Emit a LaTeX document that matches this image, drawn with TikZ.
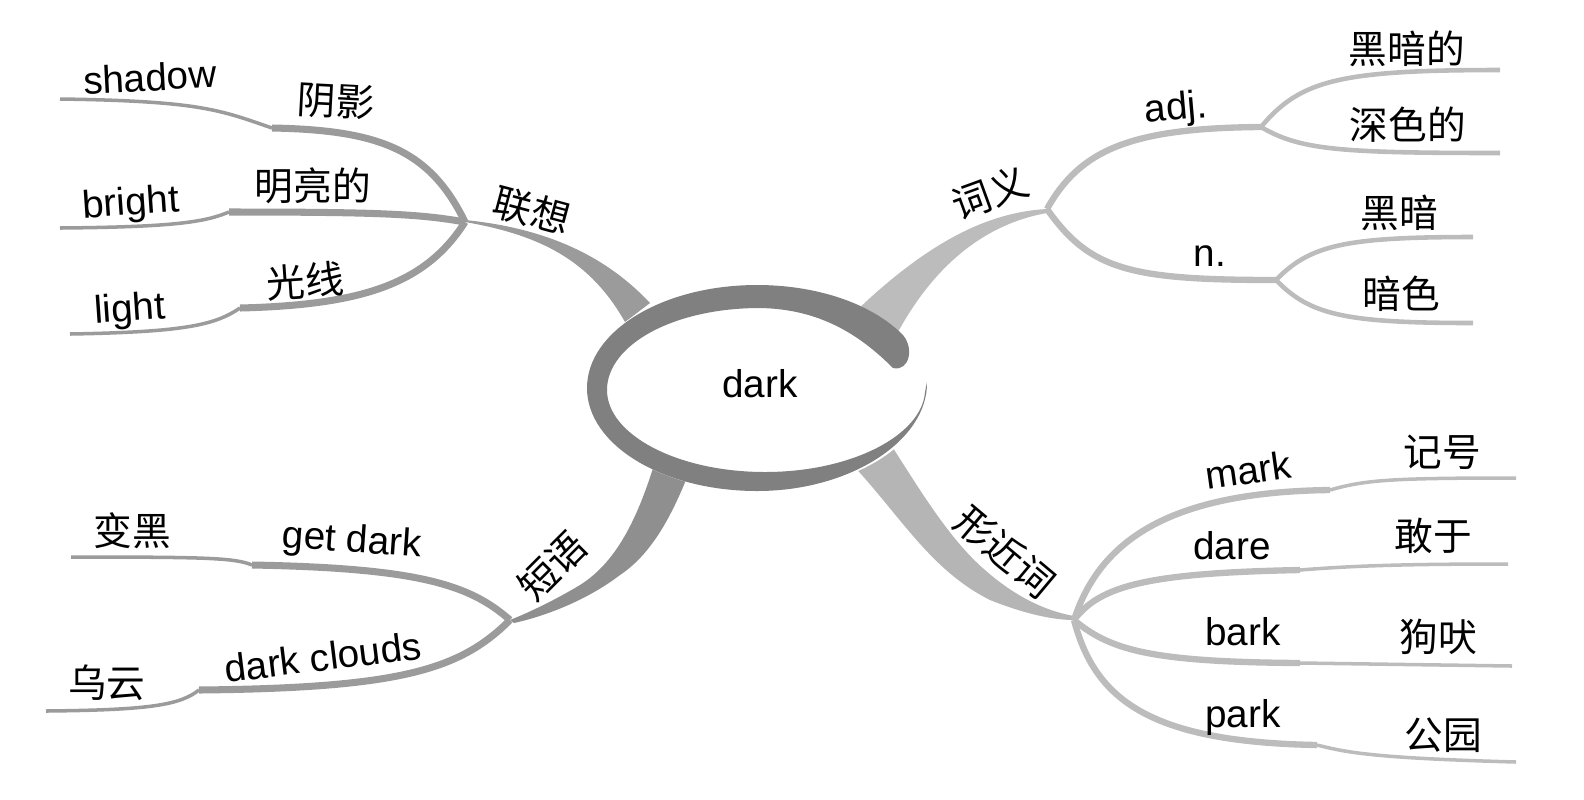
\documentclass[tikz,border=0pt]{standalone}
\usepackage{fontspec}
\setmainfont{Liberation Sans}
\newfontfamily\cjk{Noto Sans CJK SC}
\definecolor{ringgray}{RGB}{128,128,128}
\definecolor{leftgray}{RGB}{155,155,155}
\definecolor{rightgray}{RGB}{188,188,188}

\begin{document}
\begin{tikzpicture}[x=0.01cm, y=-0.01cm,
  every node/.style={font=\fontsize{11}{13}\selectfont, inner sep=0pt},
  zh/.style={font=\cjk\fontsize{11}{13}\selectfont},
  lsub/.style={draw=leftgray, line width=2pt},
  lthin/.style={draw=leftgray, line width=1pt},
  rsub/.style={draw=rightgray, line width=1.8pt},
  rmid/.style={draw=rightgray, line width=1.3pt},
  rthin/.style={draw=rightgray, line width=1pt}]
\useasboundingbox (0,0) rectangle (1584,799);

% hubs
\coordinate (assoc) at (465,222);
\coordinate (mean) at (1047,209);
\coordinate (phrase) at (510,620);
\coordinate (similar) at (1074,620);
\coordinate (adj) at (1261,127);
\coordinate (noun) at (1276,280);
% steps and free ends
\coordinate (shadowStep) at (272,128);  \coordinate (shadowEnd) at (60,99);
\coordinate (brightStep) at (229,212);  \coordinate (brightEnd) at (60,228);
\coordinate (lightStep) at (240,308);   \coordinate (lightEnd) at (70,334);
\coordinate (getdarkStep) at (252,565); \coordinate (getdarkEnd) at (71,557);
\coordinate (cloudsStep) at (199,690);  \coordinate (cloudsEnd) at (46,711);
\coordinate (blackEnd) at (1500,70);    \coordinate (deepEnd) at (1500,153);
\coordinate (nightEnd) at (1473,237);   \coordinate (dimEnd) at (1473,323);
\coordinate (markStep) at (1330,490);   \coordinate (markEnd) at (1516,478);
\coordinate (dareStep) at (1300,570);   \coordinate (dareEnd) at (1508,564);
\coordinate (barkStep) at (1300,663);   \coordinate (barkEnd) at (1512,666);
\coordinate (parkStep) at (1317,745);   \coordinate (parkEnd) at (1516,762);

% main branches
\fill[leftgray] (assoc) .. controls (540,235) and (590,260) .. (625,322) -- (650,303)
  .. controls (605,255) and (545,228) .. (465,220) -- cycle;
\fill[rightgray] (mean) .. controls (990,212) and (930,240) .. (855,312) -- (898,332)
  .. controls (940,255) and (995,222) .. (1047,213) -- cycle;
\fill[leftgray!92!black] (phrase) .. controls (530,612) and (555,600) .. (580,585)
  .. controls (620,560) and (640,510) .. (655,462) -- (688,475)
  .. controls (670,520) and (650,555) .. (620,575)
  .. controls (590,598) and (550,615) .. (514,623) -- cycle;
\fill[rightgray!96!black] (850,462) .. controls (900,515) and (930,570) .. (990,600)
  .. controls (1020,612) and (1050,620) .. (similar) -- (1074,616)
  .. controls (1040,610) and (1010,592) .. (985,570)
  .. controls (950,540) and (920,490) .. (893,448) -- cycle;

% left sub-branches
\draw[lsub] (assoc) .. controls (430,150) and (380,130) .. (shadowStep);
\draw[lthin] (shadowStep) .. controls (220,110) and (200,101) .. (shadowEnd);
\draw[lsub] (assoc) .. controls (420,214) and (380,212) .. (brightStep);
\draw[lthin] (brightStep) .. controls (205,222) and (175,227) .. (brightEnd);
\draw[lsub] (assoc) .. controls (425,285) and (360,305) .. (lightStep);
\draw[lthin] (lightStep) .. controls (215,325) and (185,332) .. (lightEnd);
\draw[lsub] (phrase) .. controls (470,585) and (420,568) .. (getdarkStep);
\draw[lthin] (getdarkStep) .. controls (235,558) and (210,557) .. (getdarkEnd);
\draw[lsub] (phrase) .. controls (460,670) and (400,688) .. (cloudsStep);
\draw[lthin] (cloudsStep) .. controls (180,705) and (150,710) .. (cloudsEnd);

% right sub-branches
\draw[rsub] (mean) .. controls (1080,150) and (1130,128) .. (adj);
\draw[rmid] (adj) .. controls (1300,80) and (1340,70) .. (blackEnd);
\draw[rmid] (adj) .. controls (1300,150) and (1340,153) .. (deepEnd);
\draw[rsub] (mean) .. controls (1090,270) and (1130,280) .. (noun);
\draw[rmid] (noun) .. controls (1310,245) and (1345,237) .. (nightEnd);
\draw[rmid] (noun) .. controls (1310,315) and (1345,323) .. (dimEnd);
\draw[rsub] (similar) .. controls (1100,540) and (1170,492) .. (markStep);
\draw[rthin] (markStep) .. controls (1365,480) and (1390,478) .. (markEnd);
\draw[rsub] (similar) .. controls (1100,585) and (1150,573) .. (dareStep);
\draw[rthin] (dareStep) .. controls (1350,566) and (1400,564) .. (dareEnd);
\draw[rsub] (similar) .. controls (1110,650) and (1150,662) .. (barkStep);
\draw[rthin] (barkStep) -- (barkEnd);
\draw[rsub] (similar) .. controls (1095,700) and (1150,742) .. (parkStep);
\draw[rthin] (parkStep) .. controls (1345,752) and (1370,758) .. (parkEnd);

% centre
\fill[white] (757,388) ellipse [x radius=1.7cm, y radius=1.03cm];
\fill[ringgray] (927,382) .. controls (928,440) and (851,491) .. (757,491)
  .. controls (663,491) and (587,445) .. (587,388)
  .. controls (587,331) and (663,285) .. (757,285)
  .. controls (816,285) and (870,303) .. (901,333)
  .. controls (915,346) and (910,372) .. (893,368)
  .. controls (860,335) and (820,309) .. (760,308)
  .. controls (673,308) and (607,345) .. (607,390)
  .. controls (607,435) and (678,472) .. (765,472)
  .. controls (852,472) and (922,435) .. (925,392) -- cycle;
\node (word) at (760,384) {dark};

% labels
\node[rotate=3] (shadow) at (150,77) {shadow};
\node[zh, rotate=-3] (yinying) at (336,101) {阴影};
\node[rotate=4] (bright) at (131,205) {bright};
\node[zh] (mingliang) at (313,186) {明亮的};
\node[rotate=4] (light) at (130,311) {light};
\node[zh, rotate=4] (guangxian) at (305,281) {光线};
\node[zh, rotate=-15] (lianxiang) at (532,210) {联想};
\node[zh, rotate=20] (ciyi) at (990,193) {词义};
\node[rotate=5] (adjlabel) at (1176,110) {adj.};
\node[zh] (heiande) at (1407,49) {黑暗的};
\node[zh] (shensede) at (1408,125) {深色的};
\node (nlabel) at (1210,256) {n.};
\node[zh] (heian) at (1399,213) {黑暗};
\node[zh] (anse) at (1401,294) {暗色};
\node[zh] (bianhei) at (132,531) {变黑};
\node[rotate=-4] (getdark) at (352,542) {get dark};
\node[zh, rotate=45] (duanyu) at (552,566) {短语};
\node[rotate=7] (clouds) at (323,657) {dark clouds};
\node[zh] (wuyun) at (107,683) {乌云};
\node[zh, rotate=-40] (xingjinci) at (1005,552) {形近词};
\node[rotate=8] (mark) at (1248,470) {mark};
\node[zh] (jihao) at (1442,452) {记号};
\node (dare) at (1232,546) {dare};
\node[zh] (ganyu) at (1433,536) {敢于};
\node (bark) at (1243,632) {bark};
\node[zh] (goufei) at (1438,637) {狗吠};
\node (park) at (1243,717) {park};
\node[zh] (gongyuan) at (1443,735) {公园};
\end{tikzpicture}
\end{document}
